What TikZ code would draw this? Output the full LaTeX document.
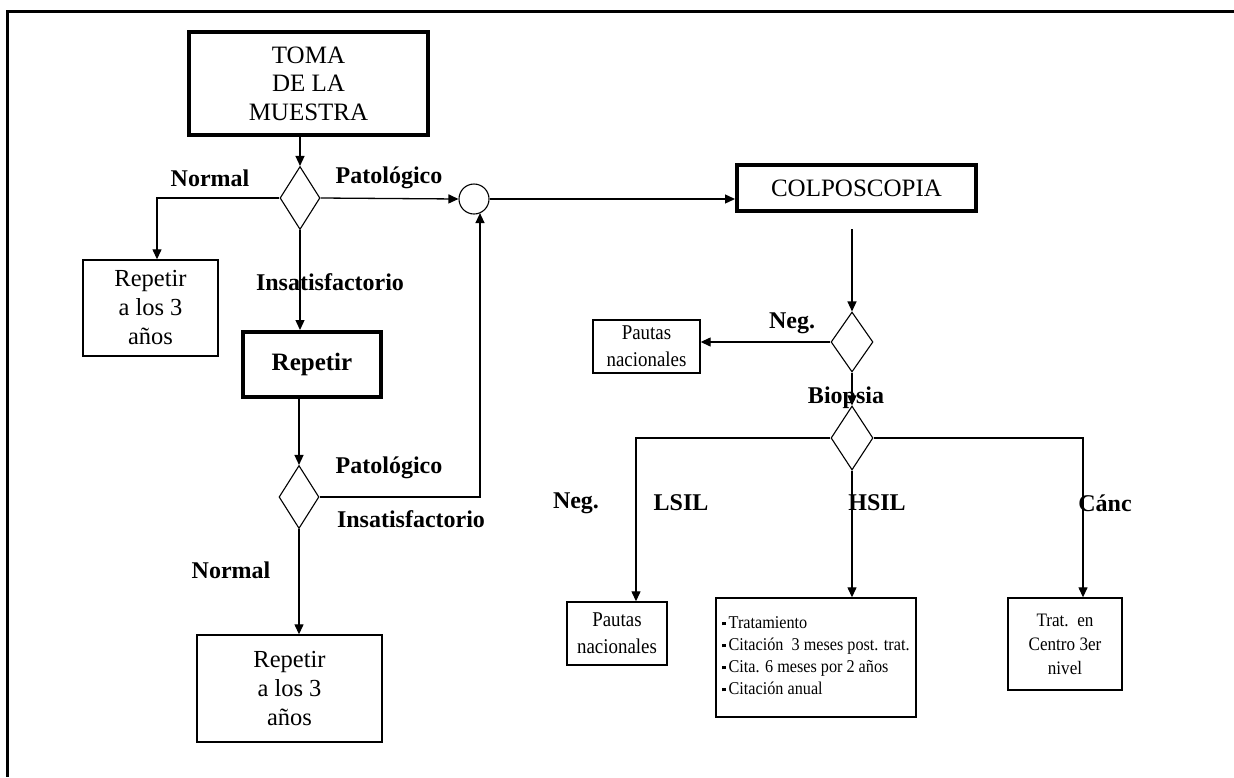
\documentclass[tikz,border=0pt]{standalone}
\usepackage{fontspec}
\setmainfont{Liberation Serif}
\newfontfamily\narrowserif[FakeStretch=0.9]{Liberation Serif}
\usetikzlibrary{shapes.geometric,arrows.meta}
\newcommand\sqbul{\rule[3.5pt]{3.2pt}{3.2pt}\,}
\begin{document}
\begin{tikzpicture}[x=1pt,y=-1pt,
  conn/.style={line width=1.3pt},
  arr/.style={conn,-{Triangle[length=10pt,width=9pt]}},
  bigbox/.style={draw,line width=4pt,inner sep=0pt,align=center},
  box/.style={draw,line width=1.4pt,inner sep=0pt,align=center},
  dec/.style={draw,diamond,line width=1.1pt,inner sep=0pt,minimum width=40pt,minimum height=63pt},
  lbl/.style={inner sep=0pt,font=\fontsize{24}{27}\selectfont\bfseries},
  big/.style={font=\fontsize{25}{28.5}\selectfont},
  mid/.style={font=\fontsize{24.5}{29}\selectfont},
  small/.style={font=\narrowserif\fontsize{21}{27}\selectfont},
]
\useasboundingbox (0,0) rectangle (1234,777);
% outer frame
\draw[line width=3pt] (1234,11) -| (7,777);

% boxes
\node[bigbox,big,minimum width=239pt,minimum height=103pt] (toma) at (308.5,83.5) {TOMA\\DE LA\\MUESTRA};
\node[box,mid,minimum width=135pt,minimum height=96pt] (rep1) at (150.5,308) {Repetir\\a los 3\\años};
\node[bigbox,minimum width=138pt,minimum height=65pt,font=\fontsize{25}{28}\selectfont\bfseries] (rep2) at (312,364.5) {Repetir};
\node[box,mid,minimum width=185pt,minimum height=107pt] (rep3) at (289.5,688.5) {Repetir\\a los 3\\años};
\node[bigbox,big,minimum width=239pt,minimum height=46pt] (colp) at (856.5,188) {COLPOSCOPIA};
\node[box,small,minimum width=107pt,minimum height=53pt] (pn1) at (646.5,346.5) {Pautas\\nacionales};
\node[box,small,minimum width=100pt,minimum height=63pt] (pn2) at (617,633.5) {Pautas\\nacionales};
\node[box,minimum width=200pt,minimum height=119pt,font=\narrowserif\fontsize{18}{22}\selectfont] (hsil) at (816,657.5)
  {\raisebox{6pt}{\begin{tabular}{@{}l@{}}\sqbul Tratamiento\\ \sqbul Citación\ \ 3 meses post. trat.\\ \sqbul Cita. 6 meses por 2 años\\ \sqbul Citación anual\end{tabular}}};
\node[box,minimum width=114pt,minimum height=92pt,font=\narrowserif\fontsize{19}{24}\selectfont] (trat) at (1065,644) {Trat.\ \ en\\Centro 3er\\nivel};

% decisions and junction
\node[dec] (d1) at (300,198) {};
\node[dec] (d4) at (299,497) {};
\node[dec,minimum width=42pt,minimum height=60pt] (d2) at (852,342) {};
\node[dec,minimum width=42pt,minimum height=64pt] (d3) at (852,438) {};
\node[draw,circle,line width=1.1pt,minimum size=30pt,inner sep=0pt] (circ) at (474,199) {};

% connectors
\draw[arr] (toma.south -| d1.north) -- (d1.north);
\draw[arr] (d1.west) -| ([xshift=6.5pt]rep1.north);
\draw[arr] (d1.east) -- (circ.west);
\draw[arr] (d1.south) -- (d1.south |- rep2.north);
\draw[arr] (circ.east) -- (circ.east -| colp.west);
\coordinate (cdrop) at (852,229);
\draw[arr] (cdrop) -- (d2.north);
\draw[arr] (d2.west) -- (d2.west -| pn1.east);
\draw[arr] (d2.south) -- (d3.north);
\coordinate (lft) at (636,438);
\draw[arr] (d3.west) -- (lft) -- (lft |- pn2.north);
\coordinate (rgt) at (1083,438);
\draw[arr] (d3.east) -- (rgt) -- (rgt |- trat.north);
\draw[arr] (d3.south) -- (d3.south |- hsil.north);
\draw[arr] (rep2.south -| d4.north) -- (d4.north);
\coordinate (up) at (480,497);
\draw[arr] (d4.east) -- (up) -- (up |- circ.-65);
\draw[arr] (d4.south) -- (d4.south |- rep3.north);

% branch labels
\node[lbl] (l1) at (210,178) {Normal};
\node[lbl] (l2) at (389,178) {Patológico};
\node[lbl] (l3) at (330,282) {Insatisfactorio};
\node[lbl] (l4) at (389,468) {Patológico};
\node[lbl] (l5) at (411,519) {Insatisfactorio};
\node[lbl] (l6) at (231,570) {Normal};
\node[lbl] (l7) at (792,323) {Neg.};
\node[lbl] (l8) at (846,398) {Biopsia};
\node[lbl] (l9) at (576,503) {Neg.};
\node[lbl] (l10) at (681,503) {LSIL};
\node[lbl] (l11) at (877,503) {HSIL};
\node[lbl] (l12) at (1105,503) {Cánc};
\end{tikzpicture}
\end{document}
